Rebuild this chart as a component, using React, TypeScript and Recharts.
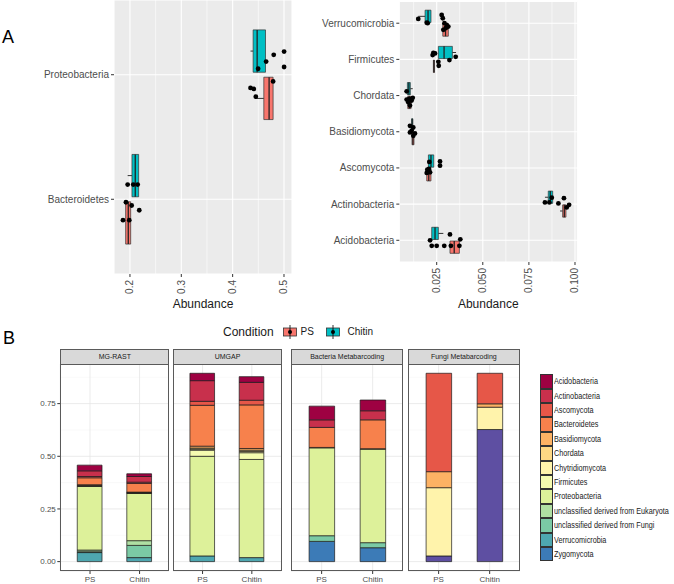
import React from "react";
import {
  ScatterChart,
  Scatter,
  BarChart,
  Bar,
  XAxis,
  YAxis,
  CartesianGrid,
  ReferenceArea,
  ReferenceLine,
} from "recharts";

const FONT = "'Liberation Sans', Arial, Helvetica, sans-serif";
const PS_FILL = "#F8766D";
const CHITIN_FILL = "#00BFC4";

// ---------- panel A ----------
// box stats: [lower whisker, Q1, median, Q3, upper whisker]
const leftCats = ["Bacteroidetes", "Proteobacteria"];
const leftBoxPS = [
  [0.1916, 0.1916, 0.1967, 0.2014, 0.2014],
  [0.4451, 0.4607, 0.471, 0.4788, 0.4788],
];
const leftBoxChitin = [
  [0.1955, 0.2039, 0.2103, 0.2169, 0.2169],
  [0.4348, 0.4399, 0.4477, 0.464, 0.464],
];
// samples: [abundance, jittered row]
const leftPtsPS = [
  [0.1922, 0.976], [0.2033, 0.95], [0.2181, 0.912], [0.1864, 0.832], [0.1986, 0.832],
  [0.4788, 1.946], [0.4348, 1.894], [0.4412, 1.886], [0.4451, 1.824],
];
const leftPtsChitin = [
  [0.1955, 1.118], [0.2064, 1.118], [0.215, 1.118],
  [0.48, 2.16], [0.5002, 2.186], [0.4652, 2.106], [0.4496, 2.048], [0.5002, 2.062],
];
const leftTicks = [0.2, 0.3, 0.4, 0.5];
const leftMinor = [0.25, 0.35, 0.45];

const rightCats = [
  "Acidobacteria", "Actinobacteria", "Ascomycota", "Basidiomycota",
  "Chordata", "Firmicutes", "Verrucomicrobia",
];
const rightBoxPS = [
  [0.0322, 0.0322, 0.0345, 0.0373, 0.0373],
  [0.0919, 0.0933, 0.0942, 0.0951, 0.0951],
  [0.0196, 0.0196, 0.0207, 0.0219, 0.0219],
  [0.0116, 0.0116, 0.0121, 0.0127, 0.0127],
  [0.0093, 0.0093, 0.0102, 0.0111, 0.0111],
  [0.0232, 0.0232, 0.0235, 0.0238, 0.0238],
  [0.0283, 0.0283, 0.0298, 0.0313, 0.0313],
];
const rightBoxChitin = [
  [0.0223, 0.0223, 0.0241, 0.0259, 0.0286],
  [0.0837, 0.0855, 0.0866, 0.0879, 0.0879],
  [0.0205, 0.0205, 0.0219, 0.0234, 0.0234],
  [0.0114, 0.0114, 0.0117, 0.0121, 0.0121],
  [0.0091, 0.0091, 0.0099, 0.0107, 0.012],
  [0.0259, 0.0259, 0.029, 0.0335, 0.0355],
  [0.015, 0.0187, 0.0203, 0.0219, 0.0219],
];
const rightPtsPS = [
  [0.0223, 0.846], [0.025, 0.846], [0.0291, 0.846], [0.0327, 0.846], [0.0373, 0.846], [0.0378, 1.027],
  [0.091, 2.019], [0.094, 2.165], [0.0968, 1.981], [0.0955, 1.909],
  [0.0199, 2.953], [0.0205, 2.907], [0.0214, 2.879], [0.0196, 2.863], [0.0208, 2.973],
  [0.0105, 3.981], [0.0132, 3.953], [0.0123, 3.89],
  [0.0087, 4.89], [0.0101, 4.909], [0.012, 4.937], [0.0096, 4.816], [0.0105, 4.725], [0.0114, 4.863],
  [0.0259, 5.934], [0.0261, 5.824],
  [0.0277, 7.228], [0.0283, 7.137], [0.0292, 7.0], [0.0304, 6.953], [0.0299, 6.863], [0.0313, 6.907], [0.0286, 6.816],
];
const rightPtsChitin = [
  [0.0322, 1.162], [0.0214, 1.0],
  [0.0837, 2.047], [0.0861, 2.047], [0.0874, 2.179],
  [0.021, 3.165], [0.0268, 3.181], [0.0268, 3.063],
  [0.0105, 4.165], [0.0123, 4.118], [0.0114, 4.027],
  [0.0087, 5.118],
  [0.0232, 6.181], [0.0241, 6.165], [0.0228, 6.118], [0.0319, 5.981], [0.0353, 6.071],
  [0.015, 7.118], [0.0196, 7.016], [0.0201, 7.0],
];
const rightTicks = [0.025, 0.05, 0.075, 0.1];
const rightMinor = [0.0125, 0.0375, 0.0625, 0.0875];

// ---------- panel B ----------
const facets = ["MG-RAST", "UMGAP", "Bacteria Metabarcoding", "Fungi Metabarcoding"];
const conditions = ["PS", "Chitin"];
// order: MG-RAST PS, Chitin, UMGAP PS, Chitin, Bacteria PS, Chitin, Fungi PS, Chitin
const acidobacteria = [0.027, 0.013, 0.035, 0.027, 0.065, 0.051, 0, 0];
const actinobacteria = [0.027, 0.027, 0.098, 0.085, 0.036, 0.043, 0, 0];
const ascomycota = [0.006, 0.006, 0.019, 0.022, 0, 0, 0.467, 0.145];
const bacteroidetes = [0.033, 0.041, 0.194, 0.207, 0.095, 0.137, 0, 0];
const basidiomycota = [0.002, 0.002, 0.009, 0.008, 0, 0, 0.076, 0.016];
const chordata = [0.002, 0.002, 0.005, 0.006, 0, 0, 0, 0];
const chytridiomycota = [0.002, 0.001, 0.005, 0.006, 0, 0, 0.324, 0.106];
const firmicutes = [0.002, 0.001, 0.029, 0.032, 0.002, 0.002, 0, 0];
const proteobacteria = [0.302, 0.2245, 0.473, 0.466, 0.417, 0.444, 0, 0];
const unclEukaryota = [0.008, 0.0225, 0, 0, 0, 0, 0, 0];
const unclFungi = [0.004, 0.058, 0, 0, 0.027, 0.024, 0, 0];
const verrucomicrobia = [0.043, 0.019, 0.027, 0.019, 0, 0, 0, 0];
const zygomycota = [0, 0, 0, 0, 0.096, 0.066, 0, 0];
const otherFungi = [0, 0, 0, 0, 0, 0, 0.027, 0.627];

const phyla = [
  { key: "acidobacteria", name: "Acidobacteria", color: "#9E0142", values: acidobacteria },
  { key: "actinobacteria", name: "Actinobacteria", color: "#C8304C", values: actinobacteria },
  { key: "ascomycota", name: "Ascomycota", color: "#E65748", values: ascomycota },
  { key: "bacteroidetes", name: "Bacteroidetes", color: "#F7814C", values: bacteroidetes },
  { key: "basidiomycota", name: "Basidiomycota", color: "#FDB264", values: basidiomycota },
  { key: "chordata", name: "Chordata", color: "#FED884", values: chordata },
  { key: "chytridiomycota", name: "Chytridiomycota", color: "#FFF3AB", values: chytridiomycota },
  { key: "firmicutes", name: "Firmicutes", color: "#F5FBB0", values: firmicutes },
  { key: "proteobacteria", name: "Proteobacteria", color: "#DDF19A", values: proteobacteria },
  { key: "unclEukaryota", name: "unclassified derived from Eukaryota", color: "#B0DFA3", values: unclEukaryota },
  { key: "unclFungi", name: "unclassified derived from Fungi", color: "#7BCAA5", values: unclFungi },
  { key: "verrucomicrobia", name: "Verrucomicrobia", color: "#4EA7B0", values: verrucomicrobia },
  { key: "zygomycota", name: "Zygomycota", color: "#3C7BB7", values: zygomycota },
];
const extra = { key: "otherFungi", name: "", color: "#5E4FA2", values: otherFungi };
const stackOrder = [extra, ...phyla.slice().reverse()];

const facetBox = [
  { x: 60.3, w: 109 },
  { x: 173.3, w: 108.4 },
  { x: 291, w: 112.3 },
  { x: 407.7, w: 112.3 },
];

const RotTick = (props: any) => {
  const { x, y, payload, fmt } = props;
  return (
    <g transform={`translate(${x},${y + 1}) rotate(-90)`}>
      <text x={0} y={0} dy="0.35em" textAnchor="end" fill="#4D4D4D" fontSize={10} fontFamily={FONT}>
        {fmt(payload.value)}
      </text>
    </g>
  );
};

const dot = (p: any) => <circle cx={p.cx} cy={p.cy} r={2.4} fill="#000" />;

function boxes(stats: number[][], offset: number, fill: string, tag: string) {
  const half = 0.17;
  const out: any[] = [];
  stats.forEach((b, i) => {
    const pos = i + 1 + offset;
    const [lo, q1, med, q3, hi] = b;
    if (lo < q1)
      out.push(
        <ReferenceLine key={`${tag}wl${i}`} segment={[{ x: lo, y: pos }, { x: q1, y: pos }]} stroke="#333" strokeWidth={1} />
      );
    if (hi > q3)
      out.push(
        <ReferenceLine key={`${tag}wh${i}`} segment={[{ x: q3, y: pos }, { x: hi, y: pos }]} stroke="#333" strokeWidth={1} />
      );
    out.push(
      <ReferenceArea key={`${tag}b${i}`} x1={q1} x2={q3} y1={pos - half} y2={pos + half} fill={fill} fillOpacity={1} stroke="#333" strokeWidth={0.7} />
    );
    out.push(
      <ReferenceLine key={`${tag}m${i}`} segment={[{ x: med, y: pos - half }, { x: med, y: pos + half }]} stroke="#222" strokeWidth={1.3} />
    );
  });
  return out;
}

function BoxPanel(props: any) {
  const { cats, boxPS, boxChitin, ptsPS, ptsChitin, domain, ticks, minor, fmt, width, height, margin, yWidth, xHeight } = props;
  return (
    <ScatterChart width={width} height={height} margin={margin}>
      <CartesianGrid fill="#EBEBEB" stroke="#FFFFFF" strokeWidth={0.6} horizontal={false} verticalValues={minor} />
      <CartesianGrid stroke="#FFFFFF" strokeWidth={1.1} />
      <XAxis
        type="number"
        dataKey="x"
        domain={domain}
        ticks={ticks}
        interval={0}
        allowDataOverflow
        height={xHeight}
        tickSize={3}
        tickLine={{ stroke: "#333" }}
        axisLine={false}
        tick={(p: any) => <RotTick {...p} fmt={fmt} />}
        label={{ value: "Abundance", position: "insideBottom", offset: 12, fill: "#1A1A1A", fontSize: 12, fontFamily: FONT }}
      />
      <YAxis
        type="number"
        dataKey="y"
        domain={[0.4, cats.length + 0.6]}
        ticks={cats.map((_: string, i: number) => i + 1)}
        interval={0}
        allowDataOverflow
        width={yWidth}
        tickSize={3}
        tickLine={{ stroke: "#333" }}
        axisLine={false}
        tickFormatter={(v: number) => cats[v - 1]}
        tick={{ fill: "#4D4D4D", fontSize: 10, fontFamily: FONT }}
      />
      {boxes(boxPS, -0.19, PS_FILL, "p")}
      {boxes(boxChitin, 0.19, CHITIN_FILL, "c")}
      <Scatter data={ptsPS.map(([x, y]: number[]) => ({ x, y }))} shape={dot} isAnimationActive={false} />
      <Scatter data={ptsChitin.map(([x, y]: number[]) => ({ x, y }))} shape={dot} isAnimationActive={false} />
    </ScatterChart>
  );
}

function Facet({ fi }: { fi: number }) {
  const { x, w } = facetBox[fi];
  const showY = fi === 0;
  const yW = showY ? x : 0;
  const data = conditions.map((c, ci) => {
    const row: Record<string, any> = { name: c };
    stackOrder.forEach((s) => {
      row[s.key] = s.values[fi * 2 + ci];
    });
    return row;
  });
  const pad = w * 0.04545;
  const barSize = (w * 0.5) / 2.2;
  const top = 364.3;
  const plotH = 207;
  return (
    <>
      <div
        style={{
          position: "absolute", left: x, top: 349.3, width: w, height: 16, boxSizing: "border-box",
          background: "#D9D9D9", border: "1px solid #5A5A5A", textAlign: "center",
          fontSize: 7, lineHeight: "14px", color: "#1A1A1A", fontFamily: FONT,
        }}
      >
        {facets[fi]}
      </div>
      <div style={{ position: "absolute", left: x - yW, top }}>
        <BarChart width={w + yW} height={plotH + 14} data={data} margin={{ top: 0, right: 0, bottom: 0, left: 0 }}>
          <CartesianGrid stroke="#F2F2F2" strokeWidth={0.5} vertical={false} horizontalValues={[0.125, 0.375, 0.625, 0.875]} />
          <CartesianGrid stroke="#E6E6E6" strokeWidth={0.8} />
          <XAxis
            dataKey="name"
            type="category"
            height={14}
            padding={{ left: pad, right: pad }}
            interval={0}
            tickSize={3}
            tickMargin={2}
            tickLine={{ stroke: "#333" }}
            axisLine={false}
            tick={{ fill: "#4D4D4D", fontSize: 8, fontFamily: FONT }}
          />
          <YAxis
            type="number"
            domain={[-0.0445, 0.938]}
            ticks={[0, 0.25, 0.5, 0.75]}
            interval={0}
            allowDataOverflow
            hide={!showY}
            width={yW}
            tickSize={3}
            tickMargin={1.5}
            tickLine={{ stroke: "#333" }}
            axisLine={false}
            tickFormatter={(v: number) => v.toFixed(2)}
            tick={{ fill: "#4D4D4D", fontSize: 8, fontFamily: FONT }}
          />
          {stackOrder.map((s) => (
            <Bar
              key={s.key}
              dataKey={s.key}
              stackId="a"
              fill={s.color}
              stroke="#1A1A1A"
              strokeWidth={0.7}
              barSize={barSize}
              isAnimationActive={false}
            />
          ))}
        </BarChart>
      </div>
      <div
        style={{
          position: "absolute", left: x, top, width: w, height: plotH, boxSizing: "border-box",
          border: "1px solid #5A5A5A", pointerEvents: "none",
        }}
      />
    </>
  );
}

const abs = (left: number, top: number, extraStyle: any = {}) => ({ position: "absolute" as const, left, top, ...extraStyle });

function ConditionKey({ left, fill }: { left: number; fill: string }) {
  return (
    <svg style={abs(left, 324.5)} width={16} height={14}>
      <line x1={8} y1={0} x2={8} y2={14} stroke="#333" strokeWidth={1} />
      <rect x={1.5} y={3} width={13} height={8} fill={fill} stroke="#333" strokeWidth={0.8} />
      <line x1={8} y1={3} x2={8} y2={11} stroke="#222" strokeWidth={1.2} />
      <circle cx={8} cy={7} r={2} fill="#000" />
    </svg>
  );
}

export default function App() {
  return (
    <div
      style={{
        position: "absolute", left: 0, top: 0, width: 674, height: 584,
        background: "#FFFFFF", overflow: "hidden", fontFamily: FONT,
      }}
    >
      <div style={abs(0, 0)}>
        <BoxPanel
          cats={leftCats}
          boxPS={leftBoxPS}
          boxChitin={leftBoxChitin}
          ptsPS={leftPtsPS}
          ptsChitin={leftPtsChitin}
          domain={[0.1689, 0.5156]}
          ticks={leftTicks}
          minor={leftMinor}
          fmt={(v: number) => v.toFixed(1)}
          width={300}
          height={320}
          margin={{ top: 0, right: 8, bottom: 0, left: 0 }}
          yWidth={114}
          xHeight={46}
        />
      </div>
      <div style={abs(290, 0)}>
        <BoxPanel
          cats={rightCats}
          boxPS={rightBoxPS}
          boxChitin={rightBoxChitin}
          ptsPS={rightPtsPS}
          ptsChitin={rightPtsChitin}
          domain={[0.00472, 0.10125]}
          ticks={rightTicks}
          minor={rightMinor}
          fmt={(v: number) => v.toFixed(3)}
          width={290}
          height={320}
          margin={{ top: 1.5, right: 2.7, bottom: 0, left: 0 }}
          yWidth={109.3}
          xHeight={58}
        />
      </div>

      <div style={abs(2, 27.5, { fontSize: 18, lineHeight: "18px", color: "#000" })}>A</div>
      <div style={abs(3, 329, { fontSize: 18, lineHeight: "18px", color: "#000" })}>B</div>

      <div style={abs(223, 323.7, { fontSize: 12, lineHeight: "16px", color: "#1A1A1A" })}>Condition</div>
      <ConditionKey left={281.5} fill={PS_FILL} />
      <div style={abs(300.5, 323.7, { fontSize: 10, lineHeight: "16px", color: "#1A1A1A" })}>PS</div>
      <ConditionKey left={324.5} fill={CHITIN_FILL} />
      <div style={abs(347.5, 323.7, { fontSize: 10, lineHeight: "16px", color: "#1A1A1A" })}>Chitin</div>

      {facets.map((_, fi) => (
        <Facet key={fi} fi={fi} />
      ))}

      <div style={abs(540, 374.3)}>
        {phyla.map((p) => (
          <div key={p.key} style={{ position: "relative", height: 14.4 }}>
            <div
              style={{
                position: "absolute", left: 0, top: 0, width: 12.7, height: 14.4, boxSizing: "border-box",
                background: p.color, border: "0.8px solid #333",
              }}
            />
            <div
              style={{
                position: "absolute", left: 13.5, top: 0, whiteSpace: "nowrap",
                fontSize: 9.3, lineHeight: "14.4px", color: "#1A1A1A",
                transform: "scaleX(0.78)", transformOrigin: "0 50%",
              }}
            >
              {p.name}
            </div>
          </div>
        ))}
      </div>
    </div>
  );
}
